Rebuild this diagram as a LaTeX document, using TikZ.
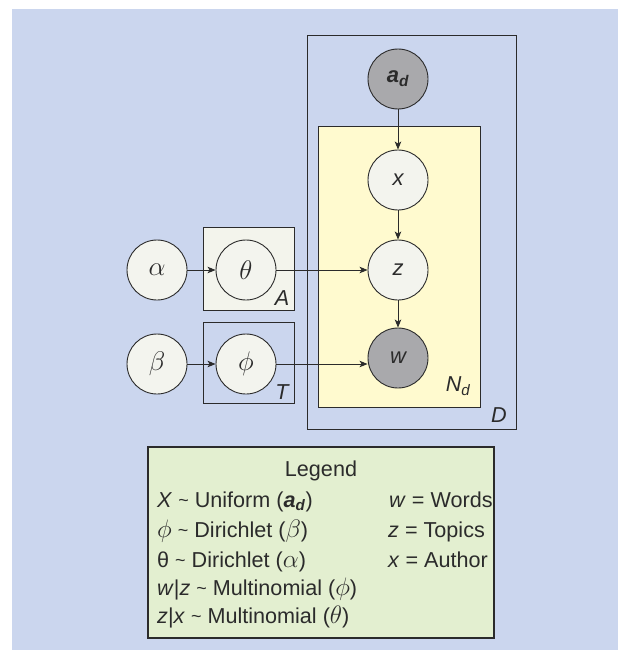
\documentclass[tikz,border=0pt]{standalone}
\usepackage{graphicx}
\usepackage{fontspec}
\setmainfont{Liberation Sans}
\usetikzlibrary{arrows.meta}
\definecolor{bgblue}{HTML}{CBD6EE}
\definecolor{lightnode}{HTML}{F3F4EE}
\definecolor{darknode}{HTML}{A9A9AC}
\definecolor{platey}{HTML}{FFFACF}
\definecolor{plateA}{HTML}{F3F4EC}
\definecolor{legendg}{HTML}{E3EFD0}
\definecolor{ink}{HTML}{2B2B2B}
\newcommand{\grknode}[1]{\scalebox{1.3}{$#1$}}
\newcommand{\grkleg}[1]{\scalebox{1.22}{$#1$}}
\newcommand{\tld}{\ \raisebox{0.8pt}{\fontsize{18}{18}\selectfont\textasciitilde}\ }
\begin{document}
\begin{tikzpicture}[x=1pt,y=-1pt,
  rv/.style={circle,draw=ink,line width=0.9pt,fill=lightnode,minimum size=60pt,inner sep=0pt,font=\fontsize{22}{26}\selectfont,text=ink},
  obs/.style={rv,fill=darknode},
  plate/.style={draw=ink,line width=1pt},
  platelabel/.style={font=\fontsize{21.6}{25}\selectfont\itshape,text=ink,inner sep=0pt},
  arr/.style={draw=ink,line width=0.9pt,-{Stealth[length=8pt,width=6.5pt,inset=2pt]}},
  legtext/.style={font=\fontsize{21.6}{25}\selectfont,text=ink,inner sep=0pt}]
\useasboundingbox (0,0) rectangle (618,650);
\fill[white] (0,0) rectangle (618,650);
\fill[bgblue] (12,9) rectangle (618,650);
% plates
\draw[plate] (307,36) rectangle (516,429);
\draw[plate,fill=platey] (318,127) rectangle (480,407);
\draw[plate,fill=plateA] (203,227) rectangle (294,310);
\draw[plate] (203,322) rectangle (294,403);
\node[platelabel] (labD) at (499,415) {D};
\node[platelabel] (labN) at (458,386) {N\textsubscript{d}};
\node[platelabel] (labA) at (282,298) {A};
\node[platelabel] (labT) at (282,392) {T};
% nodes
\node[rv] (alpha) at (157,270) {\grknode{\alpha}};
\node[rv] (theta) at (246,270) {\grknode{\theta}};
\node[rv] (beta) at (157,364) {\grknode{\beta}};
\node[rv] (phi) at (246,364) {\grknode{\phi}};
\node[obs] (ad) at (398,79) {\bfseries\itshape a\textsubscript{d}};
\node[rv] (x) at (398,180) {\itshape x};
\node[rv] (z) at (398,270) {\itshape z};
\node[obs] (w) at (398,358) {\itshape w};
% edges
\draw[arr] (alpha) -- (theta);
\draw[arr] (beta) -- (phi);
\draw[arr] (ad) -- (x);
\draw[arr] (x) -- (z);
\draw[arr] (z) -- (w);
\draw[arr] (theta) -- (z);
\draw[arr] (phi.east) -- (phi.east -| w.west);
% legend
\draw[draw=ink,line width=1.2pt,fill=legendg] (148,447) rectangle (494,638);
\node[legtext,anchor=base] (legtitle) at (321,476) {Legend};
\node[legtext,anchor=base west] (l1) at (157,507) {\textit{X}\tld Uniform (\textbf{\textit{a}\textsubscript{\textit{d}}})};
\node[legtext,anchor=base west] (l2) at (157,537) {\grkleg{\phi}\tld Dirichlet (\grkleg{\beta})};
\node[legtext,anchor=base west] (l3) at (157,567) {θ\tld Dirichlet (\grkleg{\alpha})};
\node[legtext,anchor=base west] (l4) at (157,595) {\textit{w}|\textit{z}\tld Multinomial (\grkleg{\phi})};
\node[legtext,anchor=base west] (l5) at (157,623) {\textit{z}|\textit{x}\tld Multinomial (\grkleg{\theta})};
\node[legtext,anchor=base west] (r1) at (389,507) {\textit{w} = Words};
\node[legtext,anchor=base west] (r2) at (388,537) {\textit{z} = Topics};
\node[legtext,anchor=base west] (r3) at (388,567) {\textit{x} = Author};
\end{tikzpicture}
\end{document}
